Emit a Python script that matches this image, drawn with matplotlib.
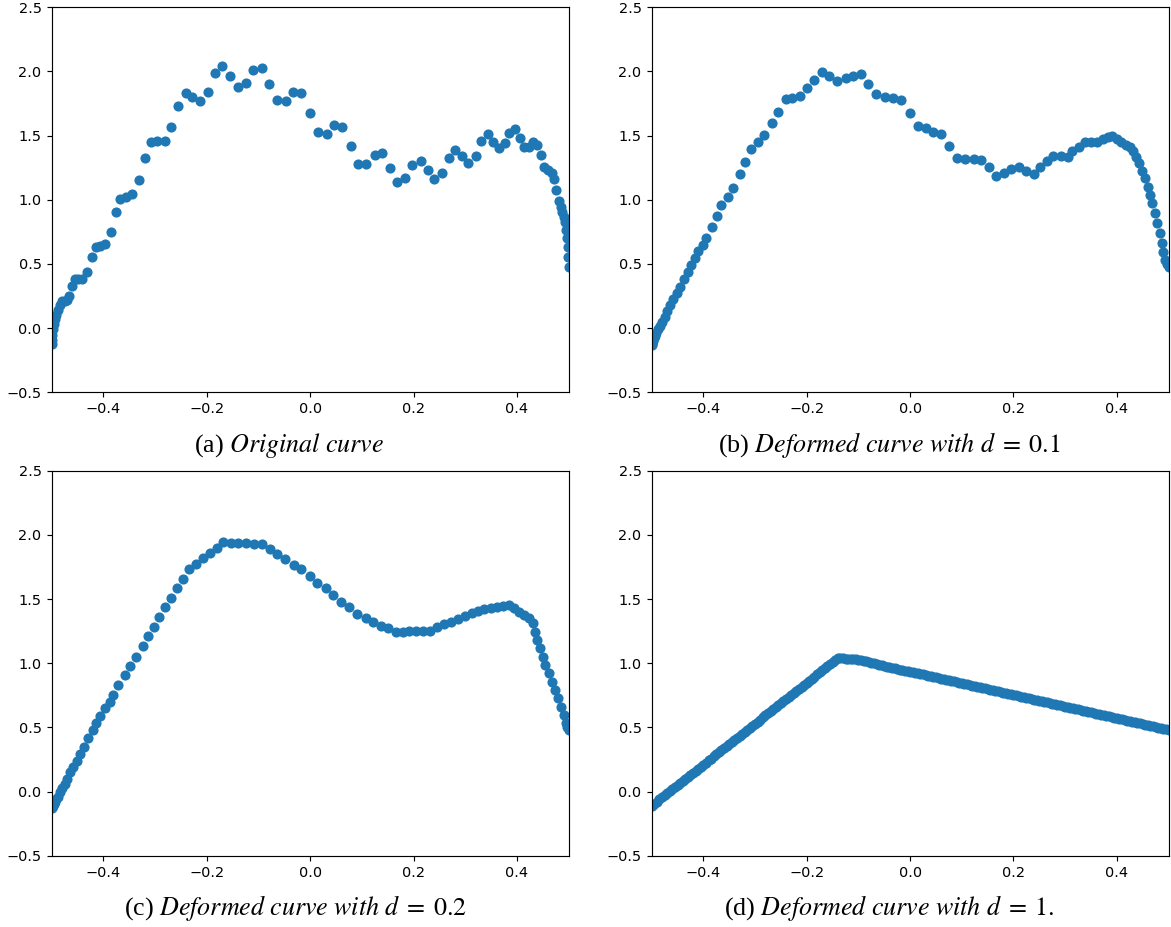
import matplotlib
matplotlib.use("Agg")
import matplotlib.pyplot as plt

# ---------------- data ----------------
xa = [-0.500, -0.4998, -0.499, -0.498, -0.496, -0.494, -0.491, -0.488, -0.484, -0.480,
      -0.475, -0.470, -0.466, -0.461, -0.455, -0.449, -0.441, -0.431, -0.423, -0.414,
      -0.406, -0.396, -0.386, -0.375, -0.367, -0.356, -0.344, -0.332, -0.320, -0.308,
      -0.296, -0.281, -0.270, -0.255, -0.241, -0.228, -0.214, -0.198, -0.184, -0.171,
      -0.156, -0.140, -0.125, -0.110, -0.094, -0.079, -0.064, -0.046, -0.034, -0.017,
      -0.001, 0.016, 0.032, 0.046, 0.061, 0.078, 0.092, 0.108, 0.125, 0.139,
      0.155, 0.168, 0.184, 0.197, 0.214, 0.228, 0.239, 0.255, 0.268, 0.281,
      0.294, 0.306, 0.320, 0.330, 0.343, 0.354, 0.365, 0.376, 0.384, 0.397,
      0.405, 0.414, 0.423, 0.431, 0.439, 0.447, 0.452, 0.460, 0.467, 0.471,
      0.476, 0.481, 0.485, 0.488, 0.491, 0.493, 0.495, 0.497, 0.498, 0.499, 0.500]
ya = [-0.12, -0.09, -0.05, -0.01, 0.03, 0.07, 0.10, 0.14, 0.18, 0.21,
      0.21, 0.22, 0.25, 0.33, 0.38, 0.38, 0.38, 0.44, 0.556, 0.634,
      0.642, 0.653, 0.751, 0.904, 1.008, 1.024, 1.045, 1.154, 1.325, 1.448,
      1.456, 1.456, 1.565, 1.733, 1.830, 1.803, 1.767, 1.840, 1.985, 2.045,
      1.967, 1.879, 1.912, 2.009, 2.027, 1.905, 1.777, 1.770, 1.840, 1.830,
      1.674, 1.530, 1.512, 1.580, 1.565, 1.417, 1.279, 1.279, 1.351, 1.362,
      1.245, 1.138, 1.167, 1.273, 1.304, 1.232, 1.159, 1.206, 1.328, 1.388,
      1.341, 1.289, 1.341, 1.458, 1.512, 1.448, 1.401, 1.440, 1.523, 1.549,
      1.479, 1.409, 1.414, 1.453, 1.427, 1.346, 1.258, 1.232, 1.206, 1.159,
      1.076, 0.990, 0.946, 0.907, 0.868, 0.829, 0.764, 0.700, 0.634, 0.556, 0.478]

xb = [-0.500, -0.4998, -0.499, -0.498, -0.496, -0.494, -0.491, -0.488, -0.484, -0.480,
      -0.475, -0.470, -0.464, -0.458, -0.452, -0.445, -0.438, -0.430, -0.424, -0.417,
      -0.410, -0.401, -0.394, -0.383, -0.373, -0.365, -0.353, -0.342, -0.330, -0.319,
      -0.308, -0.294, -0.282, -0.268, -0.255, -0.241, -0.228, -0.214, -0.199, -0.185,
      -0.171, -0.156, -0.141, -0.125, -0.111, -0.095, -0.081, -0.066, -0.049, -0.034,
      -0.017, -0.001, 0.015, 0.031, 0.045, 0.060, 0.076, 0.091, 0.107, 0.123,
      0.138, 0.152, 0.167, 0.181, 0.196, 0.210, 0.225, 0.239, 0.252, 0.265,
      0.277, 0.292, 0.305, 0.314, 0.326, 0.339, 0.350, 0.362, 0.373, 0.383,
      0.391, 0.400, 0.408, 0.417, 0.425, 0.432, 0.438, 0.443, 0.449, 0.455,
      0.460, 0.465, 0.468, 0.473, 0.477, 0.483, 0.487, 0.490, 0.494, 0.497, 0.500]
yb = [-0.13, -0.12, -0.11, -0.10, -0.08, -0.06, -0.04, -0.01, 0.02, 0.05,
      0.09, 0.13, 0.18, 0.23, 0.27, 0.32, 0.38, 0.44, 0.491, 0.544,
      0.603, 0.647, 0.704, 0.790, 0.873, 0.961, 1.024, 1.094, 1.198, 1.292,
      1.393, 1.448, 1.507, 1.596, 1.684, 1.783, 1.793, 1.811, 1.871, 1.936,
      1.996, 1.965, 1.926, 1.949, 1.965, 1.980, 1.905, 1.822, 1.803, 1.791,
      1.777, 1.674, 1.575, 1.557, 1.530, 1.512, 1.419, 1.328, 1.315, 1.320,
      1.310, 1.258, 1.185, 1.211, 1.237, 1.258, 1.227, 1.201, 1.258, 1.300,
      1.341, 1.341, 1.336, 1.382, 1.414, 1.453, 1.453, 1.453, 1.471, 1.487,
      1.497, 1.471, 1.450, 1.427, 1.409, 1.382, 1.336, 1.284, 1.227, 1.167,
      1.102, 1.037, 0.972, 0.894, 0.816, 0.739, 0.661, 0.595, 0.530, 0.500, 0.478]

xc = [-0.500, -0.4998, -0.499, -0.498, -0.496, -0.494, -0.491, -0.488, -0.484, -0.480,
      -0.475, -0.470, -0.464, -0.458, -0.452, -0.445, -0.437, -0.429, -0.421, -0.414,
      -0.406, -0.396, -0.388, -0.381, -0.371, -0.358, -0.348, -0.337, -0.324, -0.313,
      -0.303, -0.292, -0.280, -0.269, -0.257, -0.246, -0.235, -0.221, -0.208, -0.193,
      -0.181, -0.169, -0.154, -0.139, -0.124, -0.108, -0.093, -0.077, -0.064, -0.048,
      -0.032, -0.017, -0.001, 0.014, 0.030, 0.045, 0.060, 0.076, 0.091, 0.107,
      0.121, 0.136, 0.150, 0.165, 0.179, 0.192, 0.205, 0.219, 0.232, 0.245,
      0.258, 0.273, 0.286, 0.299, 0.312, 0.324, 0.337, 0.350, 0.361, 0.373,
      0.384, 0.394, 0.404, 0.414, 0.423, 0.430, 0.434, 0.439, 0.445, 0.450,
      0.455, 0.461, 0.467, 0.473, 0.479, 0.486, 0.490, 0.494, 0.497, 0.500]
yc = [-0.13, -0.12, -0.12, -0.11, -0.10, -0.08, -0.06, -0.04, 0.00, 0.03,
      0.06, 0.10, 0.15, 0.19, 0.24, 0.29, 0.35, 0.42, 0.48, 0.531,
      0.588, 0.648, 0.700, 0.752, 0.827, 0.908, 0.980, 1.050, 1.136, 1.212,
      1.284, 1.357, 1.435, 1.510, 1.583, 1.658, 1.736, 1.773, 1.817, 1.861,
      1.895, 1.947, 1.939, 1.939, 1.939, 1.929, 1.929, 1.887, 1.848, 1.809,
      1.768, 1.731, 1.679, 1.627, 1.583, 1.531, 1.479, 1.435, 1.383, 1.354,
      1.323, 1.292, 1.272, 1.240, 1.245, 1.251, 1.253, 1.253, 1.253, 1.284,
      1.305, 1.323, 1.344, 1.367, 1.389, 1.406, 1.419, 1.427, 1.435, 1.445,
      1.453, 1.427, 1.401, 1.375, 1.350, 1.311, 1.245, 1.180, 1.115, 1.050,
      0.986, 0.921, 0.856, 0.791, 0.726, 0.661, 0.596, 0.531, 0.500, 0.479]

xd = [-0.500, -0.495, -0.490, -0.485, -0.480, -0.475, -0.470, -0.465, -0.460, -0.455,
      -0.450, -0.445, -0.440, -0.435, -0.430, -0.425, -0.420, -0.415, -0.410, -0.405,
      -0.400, -0.395, -0.390, -0.385, -0.380, -0.375, -0.370, -0.365, -0.360, -0.355,
      -0.350, -0.345, -0.340, -0.335, -0.330, -0.325, -0.320, -0.315, -0.310, -0.305,
      -0.300, -0.295, -0.290, -0.285, -0.280, -0.275, -0.270, -0.265, -0.260, -0.255,
      -0.250, -0.245, -0.240, -0.235, -0.230, -0.225, -0.220, -0.215, -0.210, -0.205,
      -0.200, -0.195, -0.190, -0.185, -0.180, -0.175, -0.170, -0.165, -0.160, -0.155,
      -0.150, -0.145, -0.140, -0.135, -0.130, -0.125, -0.120, -0.115, -0.110, -0.105,
      -0.100, -0.095, -0.090, -0.085, -0.080, -0.075, -0.070, -0.065, -0.060, -0.055,
      -0.050, -0.045, -0.040, -0.035, -0.030, -0.025, -0.020, -0.015, -0.010, -0.005,
      0.000, 0.005, 0.010, 0.015, 0.020, 0.025, 0.030, 0.035, 0.040, 0.045,
      0.050, 0.055, 0.060, 0.065, 0.070, 0.075, 0.080, 0.085, 0.090, 0.095,
      0.100, 0.105, 0.110, 0.115, 0.120, 0.125, 0.130, 0.135, 0.140, 0.145,
      0.150, 0.155, 0.160, 0.165, 0.170, 0.175, 0.180, 0.185, 0.190, 0.195,
      0.200, 0.205, 0.210, 0.215, 0.220, 0.225, 0.230, 0.235, 0.240, 0.245,
      0.250, 0.255, 0.260, 0.265, 0.270, 0.275, 0.280, 0.285, 0.290, 0.295,
      0.300, 0.305, 0.310, 0.315, 0.320, 0.325, 0.330, 0.335, 0.340, 0.345,
      0.350, 0.355, 0.360, 0.365, 0.370, 0.375, 0.380, 0.385, 0.390, 0.395,
      0.400, 0.405, 0.410, 0.415, 0.420, 0.425, 0.430, 0.435, 0.440, 0.445,
      0.450, 0.455, 0.460, 0.465, 0.470, 0.475, 0.480, 0.485, 0.490, 0.495, 0.500]
yd = [-0.110, -0.094, -0.078, -0.062, -0.046, -0.030, -0.014, 0.002, 0.018, 0.034,
      0.050, 0.066, 0.082, 0.098, 0.114, 0.130, 0.146, 0.162, 0.178, 0.194,
      0.210, 0.226, 0.242, 0.257, 0.273, 0.289, 0.305, 0.321, 0.337, 0.353,
      0.369, 0.385, 0.401, 0.417, 0.433, 0.449, 0.465, 0.481, 0.497, 0.513,
      0.529, 0.545, 0.561, 0.577, 0.593, 0.609, 0.625, 0.641, 0.657, 0.673,
      0.689, 0.705, 0.721, 0.737, 0.752, 0.768, 0.784, 0.800, 0.816, 0.832,
      0.848, 0.864, 0.880, 0.896, 0.912, 0.928, 0.944, 0.960, 0.976, 0.992,
      1.008, 1.024, 1.040, 1.040, 1.038, 1.036, 1.035, 1.034, 1.032, 1.030,
      1.028, 1.025, 1.020, 1.015, 1.010, 1.004, 0.999, 0.994, 0.989, 0.984,
      0.979, 0.974, 0.969, 0.964, 0.959, 0.954, 0.949, 0.944, 0.940, 0.937,
      0.935, 0.930, 0.926, 0.921, 0.917, 0.912, 0.908, 0.903, 0.899, 0.894,
      0.890, 0.885, 0.880, 0.876, 0.871, 0.867, 0.862, 0.858, 0.853, 0.849,
      0.844, 0.840, 0.835, 0.831, 0.826, 0.822, 0.817, 0.812, 0.808, 0.803,
      0.798, 0.794, 0.789, 0.785, 0.780, 0.776, 0.771, 0.767, 0.762, 0.758,
      0.753, 0.749, 0.744, 0.740, 0.735, 0.731, 0.726, 0.722, 0.717, 0.713,
      0.708, 0.703, 0.698, 0.694, 0.689, 0.685, 0.680, 0.676, 0.671, 0.667,
      0.662, 0.658, 0.653, 0.649, 0.644, 0.640, 0.635, 0.631, 0.626, 0.622,
      0.617, 0.612, 0.607, 0.603, 0.598, 0.594, 0.589, 0.585, 0.580, 0.576,
      0.571, 0.567, 0.562, 0.558, 0.553, 0.549, 0.544, 0.540, 0.535, 0.531,
      0.526, 0.521, 0.516, 0.512, 0.507, 0.503, 0.498, 0.494, 0.489, 0.485, 0.480]

captions = [r"(a) $\mathit{Original\ curve}$",
            r"(b) $\mathit{Deformed\ curve\ with}\ d\;=\;0.1$",
            r"(c) $\mathit{Deformed\ curve\ with}\ d\;=\;0.2$",
            r"(d) $\mathit{Deformed\ curve\ with}\ d\;=\;1.$"]
yticks = [-0.5, 0.0, 0.5, 1.0, 1.5, 2.0, 2.5]
xticks = [-0.4, -0.2, 0.0, 0.2, 0.4]

# ---------------- figure ----------------
DPI = 104.2
W, H = 1171, 927
plt.rcParams['mathtext.fontset'] = 'stix'
fig = plt.figure(figsize=(W / DPI, H / DPI), dpi=DPI)

# axes rectangles in pixels: (left, top, right, bottom)
rects = [(51.7, 7.3, 568.7, 392.3), (651.7, 7.3, 1168.5, 392.3),
         (51.7, 470.7, 568.7, 855.7), (651.7, 470.7, 1168.5, 855.7)]
cap_pos = [(289, 445), (889, 445), (296, 908), (889, 908)]
data = [(xa, ya), (xb, yb), (xc, yc), (xd, yd)]

for (l, t, r, b), (xs, ys), cap, (cx, cy) in zip(rects, data, captions, cap_pos):
    ax = fig.add_axes([l / W, 1 - b / H, (r - l) / W, (b - t) / H])
    ax.scatter(xs, ys, color='#1f77b4')
    ax.set_xlim(-0.5, 0.5)
    ax.set_ylim(-0.5, 2.5)
    ax.set_yticks(yticks)
    ax.set_xticks(xticks)
    fig.text(cx / W, 1 - cy / H, cap, ha='center', va='center',
             fontsize=18, family='Liberation Serif')

fig.savefig('out.png', dpi=DPI, facecolor='white')
